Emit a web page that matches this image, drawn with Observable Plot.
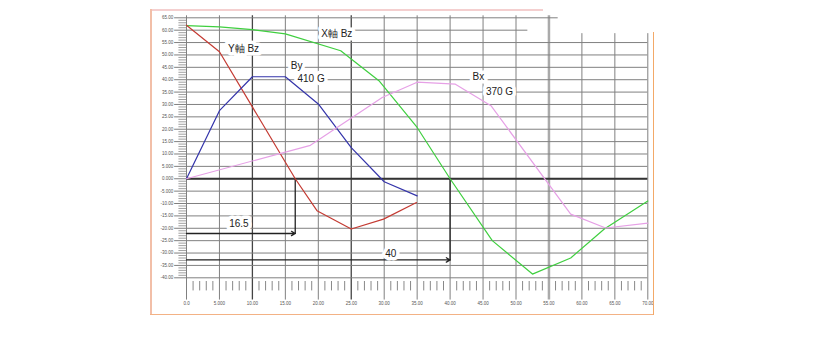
<!DOCTYPE html>
<html><head><meta charset="utf-8">
<script src="https://cdn.jsdelivr.net/npm/d3@7"></script>
<script src="https://cdn.jsdelivr.net/npm/@observablehq/plot@0.6"></script>
<style>
body{margin:0;background:#fff;font-family:"Liberation Sans",Arial,sans-serif;}
#wrap{position:relative;width:825px;height:360px;overflow:hidden;}
.b{position:absolute;}
</style></head><body><div id="wrap"></div>
<script>
// ---- data ----
const seriesNames = ["X軸 Bz", "Y軸 Bz", "By", "Bx"];
const seriesColors = ["#3fcf3f", "#c43b33", "#3434aa", "#e6a0e6"];
const xBzX = [0, 5, 10, 15, 23.4, 29.2, 35, 40, 46.4, 52.5, 58.3, 63.4, 70];
const xBzY = [61.8, 61.3, 60.2, 58.5, 51.7, 39.6, 20.7, 0, -25, -38.5, -32, -20.3, -9];
const yBzX = [0, 5, 16.5, 19.8, 25, 29.9, 34.9];
const yBzY = [62, 51.3, 0, -12.9, -20.3, -16.3, -9.6];
const byX = [0, 5, 10, 15, 20, 25, 30, 35];
const byY = [0, 27.5, 41.2, 41.2, 30.2, 12.6, -1.2, -6.9];
const bxX = [0, 18.8, 29.7, 35, 40.8, 46.2, 58.3, 63.6, 70];
const bxY = [0, 13.5, 32.8, 39, 38.2, 29.5, -14.3, -19.9, -17.9];

const xTicks = [0, 5, 10, 15, 20, 25, 30, 35, 40, 45, 50, 55, 60, 65, 70];
const xTickLabels = ["0.0", "5.000", "10.00", "15.00", "20.00", "25.00", "30.00", "35.00", "40.00", "45.00", "50.00", "55.00", "60.00", "65.00", "70.00"];
const yTicks = [65, 60, 55, 50, 45, 40, 35, 30, 25, 20, 15, 10, 5, 0, -5, -10, -15, -20, -25, -30, -35, -40];
const yTickLabels = ["65.00", "60.00", "55.00", "50.00", "45.00", "40.00", "35.00", "30.00", "25.00", "20.00", "15.00", "10.00", "5.000", "0.000", "-5.000", "-10.00", "-15.00", "-20.00", "-25.00", "-30.00", "-35.00", "-40.00"];

// annotations (label, x, y)
const labelText = ["X軸 Bz", "Y軸 Bz", "By", "410 G", "Bx", "370 G", "16.5", "40"];
const labelX = [22.8, 8.65, 16.7, 18.9, 44.3, 47.5, 7.95, 31];
const labelY = [58.6, 52.4, 45.8, 40.3, 41.3, 35.1, -18.3, -30.4];
const markerX = [16.5, 40];
const markerArrowY = [-22.1, -32.8];

// ---- build tables ----
const seriesX = [xBzX, yBzX, byX, bxX];
const seriesY = [xBzY, yBzY, byY, bxY];
const rows = seriesNames.flatMap((n, i) => seriesX[i].map((x, j) => ({series: n, x, y: seriesY[i][j]})));
const labels = labelText.map((t, i) => ({t, x: labelX[i], y: labelY[i]}));
const xTickRows = xTicks.map((v, i) => ({v, label: xTickLabels[i]}));
const yTickRows = yTicks.map((v, i) => ({v, label: yTickLabels[i]}));
const markers = markerX.map((x, i) => ({x, y: markerArrowY[i]}));
const minorX = d3.range(0, 71).filter(d => d % 5 !== 0);
const minorY = d3.range(-40, 66).filter(d => d % 5 !== 0);

const gridStroke = v => (v === 10 || v === 25) ? "#444" : (v === 55 ? "#aaa" : "#808080");
const gridWidth = v => (v === 55 ? 2.5 : (v === 10 || v === 25) ? 1.3 : 1);

const chart = Plot.plot({
  width: 825, height: 360,
  marginLeft: 186, marginRight: 178, marginTop: 17, marginBottom: 83,
  x: {domain: [0, 70], range: [186, 647.3], axis: null},
  y: {domain: [-40, 65], range: [277.3, 17.3], axis: null},
  color: {domain: seriesNames, range: seriesColors},
  style: {background: "transparent", fontFamily: "Liberation Sans, Arial, sans-serif"},
  marks: [
    // vertical grid + extended major ticks below
    Plot.ruleX(xTickRows, {x: "v", y1: -49, y2: d => d.v >= 60 ? 58.6 : 65.8, stroke: d => gridStroke(d.v), strokeWidth: d => gridWidth(d.v)}),
    Plot.ruleX(minorX, {x: d => d, y1: -41.5, y2: -45.3, stroke: "#888", strokeWidth: 1}),
    // horizontal grid + major ticks
    Plot.ruleY(yTickRows, {y: "v", x1: -1.8, x2: d => d.v === 65 ? 56.4 : d.v === 60 ? 51.8 : 70, stroke: "#808080", strokeWidth: 1}),
    Plot.ruleY(minorY, {y: d => d, x1: -1.15, x2: 0, stroke: "#888", strokeWidth: 0.8}),
    Plot.ruleY([0], {x1: 0, x2: 70, stroke: "#333", strokeWidth: 2}),
    // tick labels
    Plot.text(xTickRows, {x: "v", y: -50.5, text: "label", fontSize: 4.5, fill: "#555"}),
    Plot.text(yTickRows, {x: -2, y: "v", text: "label", fontSize: 4.5, fill: "#555", textAnchor: "end"}),
    // dimension markers
    Plot.ruleX(markers, {x: "x", y1: 0, y2: d => d.y - 0.4, stroke: "#222", strokeWidth: 1.3}),
    Plot.arrow(markers, {x1: 0, x2: "x", y1: "y", y2: "y", stroke: "#222", strokeWidth: 1.3, headLength: 5, bend: 0}),
    // labels with white boxes
    Plot.text(labels, {x: "x", y: "y", text: "t", fontSize: 10, fill: "#222", stroke: "white", strokeWidth: 7, paintOrder: "stroke"}),
    // data lines
    Plot.line(rows, {x: "x", y: "y", z: "series", stroke: "series", strokeWidth: 1.2})
  ]
});
const wrap = document.getElementById("wrap");
wrap.appendChild(chart);
chart.style.position = "absolute"; chart.style.left = "0"; chart.style.top = "0";
// frame
const frames = [
  {l: 150, t: 9, w: 393, h: 1.5, c: "#f4cfcf"},
  {l: 150, t: 9, w: 1.5, h: 306, c: "#f2bfa8"},
  {l: 150, t: 313.5, w: 504, h: 1.5, c: "#f3b285"},
  {l: 652.5, t: 32, w: 1.5, h: 283, c: "#f3a968"}
];
for (const f of frames) {
  const d = document.createElement("div");
  d.className = "b";
  d.style.cssText = `left:${f.l}px;top:${f.t}px;width:${f.w}px;height:${f.h}px;background:${f.c};`;
  wrap.appendChild(d);
}
</script></body></html>
